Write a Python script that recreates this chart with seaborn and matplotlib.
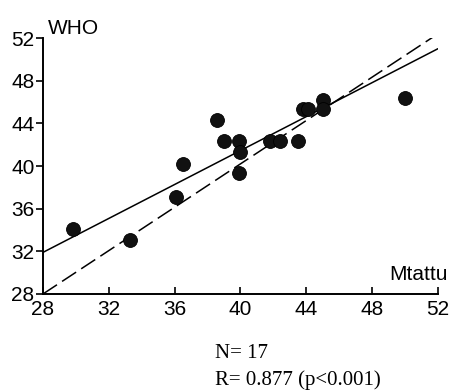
import matplotlib
matplotlib.use("Agg")
import matplotlib.pyplot as plt
import seaborn as sns
import pandas as pd

# Data
mtattu = [29.8, 33.3, 36.1, 36.5, 38.55, 39.0, 39.9, 40.0, 39.9, 41.8, 42.4, 43.5, 43.8, 44.1, 45.0, 45.0, 50.0]
who = [34.1, 33.1, 37.1, 40.2, 44.3, 42.3, 42.3, 41.3, 39.3, 42.3, 42.3, 42.3, 45.3, 45.3, 46.2, 45.3, 46.4]
fit_x = [28, 52]
fit_y = [31.9, 51.0]
ident_x = [28, 52]
ident_y = [28, 52.4]
ticks = [28, 32, 36, 40, 44, 48, 52]

sns.set_style("ticks")
plt.rcParams['font.family'] = ['Liberation Sans', 'DejaVu Sans']
plt.rcParams['text.color'] = 'black'
plt.rcParams['xtick.color'] = 'black'
plt.rcParams['ytick.color'] = 'black'
plt.rcParams['axes.edgecolor'] = 'black'

fig = plt.figure(figsize=(4.52, 3.92), dpi=100)
ax = fig.add_axes([0.095, 0.25, 0.874, 0.653])

df = pd.DataFrame({"Mtattu": mtattu, "WHO": who})
sns.lineplot(x=fit_x, y=fit_y, ax=ax, color="black", lw=1.1)
sns.lineplot(x=ident_x, y=ident_y, ax=ax, color="black", lw=1.1, dashes=False,
             linestyle=(0, (11, 4)))
sns.scatterplot(data=df, x="Mtattu", y="WHO", ax=ax, color="#111111", s=100,
                edgecolor="black", linewidth=0.6, zorder=5)

ax.set_xlim(28, 52)
ax.set_ylim(28, 52)
ax.set_xticks(ticks)
ax.set_yticks(ticks)
ax.set_xticklabels([str(t) for t in ticks])
ax.set_yticklabels([str(t) for t in ticks])
ax.set_xlabel("")
ax.set_ylabel("")
for s in ["top", "right"]:
    ax.spines[s].set_visible(False)
for s in ["left", "bottom"]:
    ax.spines[s].set_linewidth(1.4)
ax.tick_params(axis="x", direction="in", length=5, width=1.2, labelsize=15, pad=4, colors="black")
ax.tick_params(axis="y", direction="out", length=5, width=1.2, labelsize=15, pad=1, colors="black")

ax.text(0.012, 1.0, "WHO", transform=ax.transAxes, fontsize=15, ha="left", va="bottom", color="black")
ax.text(1.025, 0.04, "Mtattu", transform=ax.transAxes, fontsize=15, ha="right", va="bottom", color="black")

fig.text(0.476, 0.099, "N= 17", family=["Liberation Serif"], fontsize=15, ha="left", va="center", color="black")
fig.text(0.476, 0.031, "R= 0.877 (p<0.001)", family=["Liberation Serif"], fontsize=15, ha="left", va="center", color="black")

fig.savefig("out.png", dpi=100)
